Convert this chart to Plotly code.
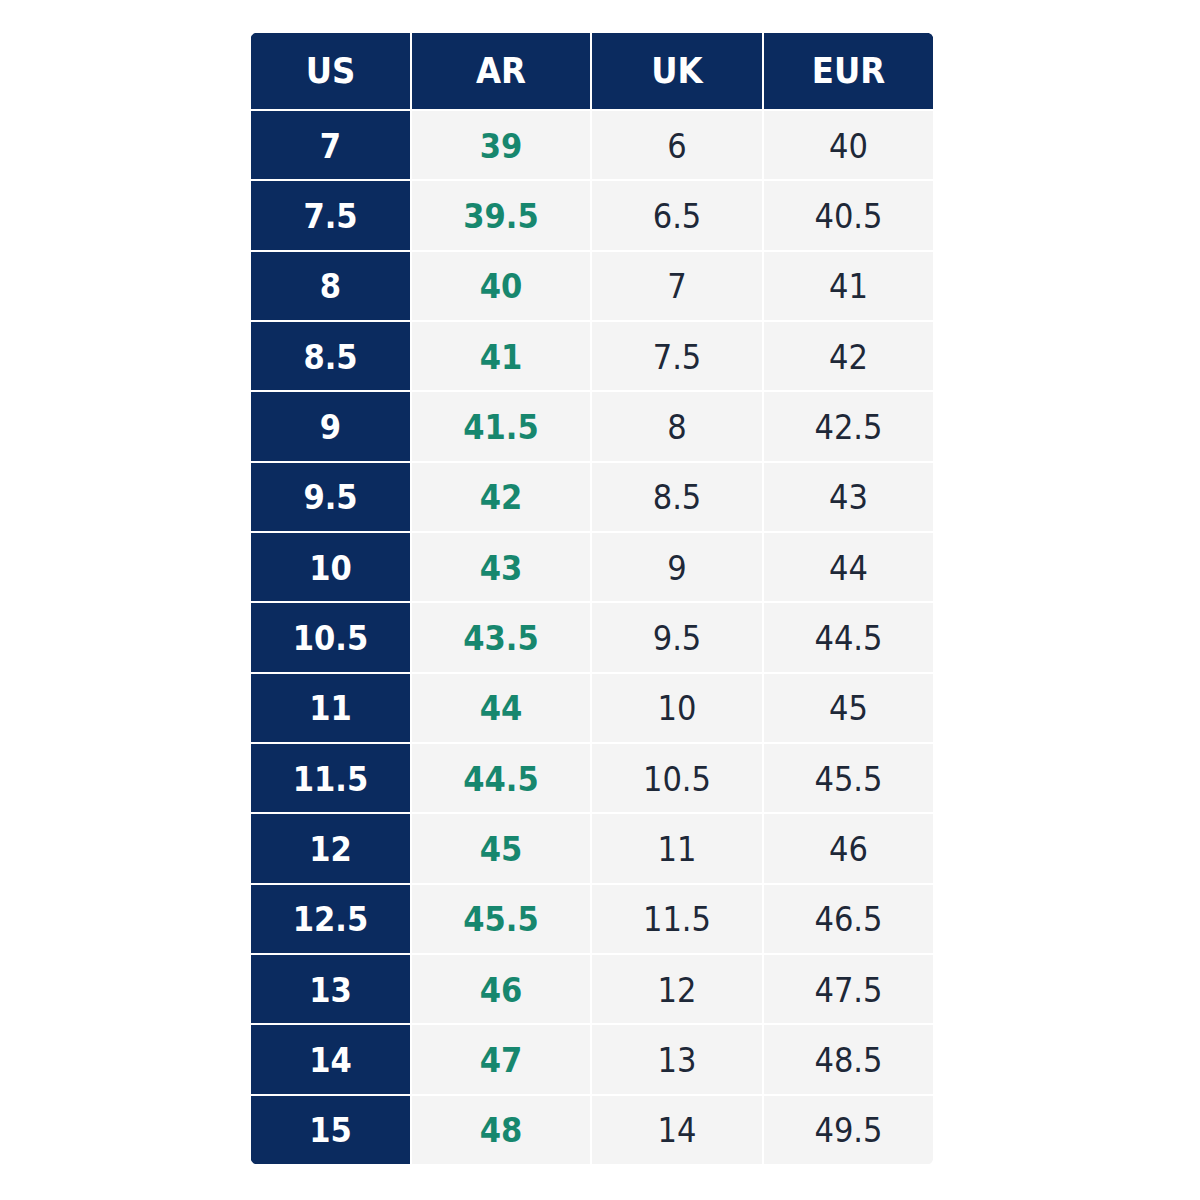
import plotly.graph_objects as go

headers = ["US", "AR", "UK", "EUR"]
us = ["7", "7.5", "8", "8.5", "9", "9.5", "10", "10.5", "11", "11.5", "12", "12.5", "13", "14", "15"]
ar = ["39", "39.5", "40", "41", "41.5", "42", "43", "43.5", "44", "44.5", "45", "45.5", "46", "47", "48"]
uk = ["6", "6.5", "7", "7.5", "8", "8.5", "9", "9.5", "10", "10.5", "11", "11.5", "12", "13", "14"]
eur = ["40", "40.5", "41", "42", "42.5", "43", "44", "44.5", "45", "45.5", "46", "46.5", "47.5", "48.5", "49.5"]

navy = "#0B2B5F"
green = "#17876E"
dark = "#1E2838"
light = "#F4F4F4"
font = "DejaVu Sans Condensed, Roboto, sans-serif"

# layout of the grid (pixels)
col_w = [161, 180, 172, 171]
head_h = 78
row_h = 1055 / 15

x_edges = [0]
for w in col_w:
    x_edges.append(x_edges[-1] + w)
y_edges = [0, head_h]
for _ in us:
    y_edges.append(y_edges[-1] + row_h)

x_mid = [(a + b) / 2 for a, b in zip(x_edges[:-1], x_edges[1:])]
y_mid = [(a + b) / 2 for a, b in zip(y_edges[:-1], y_edges[1:])]

# 1 = navy cell, 0 = light cell
z = [[1, 1, 1, 1]] + [[1, 0, 0, 0] for _ in us]

fig = go.Figure()
fig.add_trace(go.Heatmap(
    x=x_edges, y=y_edges, z=z,
    colorscale=[[0, light], [1, navy]], zmin=0, zmax=1,
    showscale=False, xgap=2, ygap=2, hoverinfo="skip",
))

# header
fig.add_trace(go.Scatter(
    x=x_mid, y=[y_mid[0] + 3] * 4, text=headers, mode="text",
    textposition="middle center",
    textfont=dict(family=font, size=36, color="white", weight="bold"),
    hoverinfo="skip",
))

columns = [us, ar, uk, eur]
colors = ["white", green, dark, dark]
weights = ["bold", "bold", "normal", "normal"]
for i, col in enumerate(columns):
    fig.add_trace(go.Scatter(
        x=[x_mid[i]] * len(col), y=[y + 4 for y in y_mid[1:]], text=col, mode="text",
        textposition="middle center",
        textfont=dict(family=font, size=34, color=colors[i], weight=weights[i]),
        hoverinfo="skip",
    ))

# rounded outer corners (white masks)
W, H, r = x_edges[-1], y_edges[-1], 10
corners = [
    "M 0,0 L {r},0 Q 0,0 0,{r} Z",
    "M {W},0 L {w2},0 Q {W},0 {W},{r} Z",
    "M 0,{H} L {r},{H} Q 0,{H} 0,{h2} Z",
    "M {W},{H} L {w2},{H} Q {W},{H} {W},{h2} Z",
]
for c in corners:
    fig.add_shape(type="path", xref="x", yref="y",
                  path=c.format(r=r, W=W, H=H, w2=W - r, h2=H - r),
                  fillcolor="white", line=dict(width=0))

fig.update_xaxes(range=[0, x_edges[-1]], domain=[242 / 1200, 926 / 1200],
                 visible=False, fixedrange=True)
fig.update_yaxes(range=[y_edges[-1], 0], domain=[1 - 1157 / 1200, 1 - 24 / 1200],
                 visible=False, fixedrange=True)

fig.update_layout(
    width=1200, height=1200,
    margin=dict(l=0, r=0, t=0, b=0),
    paper_bgcolor="white",
    plot_bgcolor="white",
    showlegend=False,
)

fig.write_html("out.html")
